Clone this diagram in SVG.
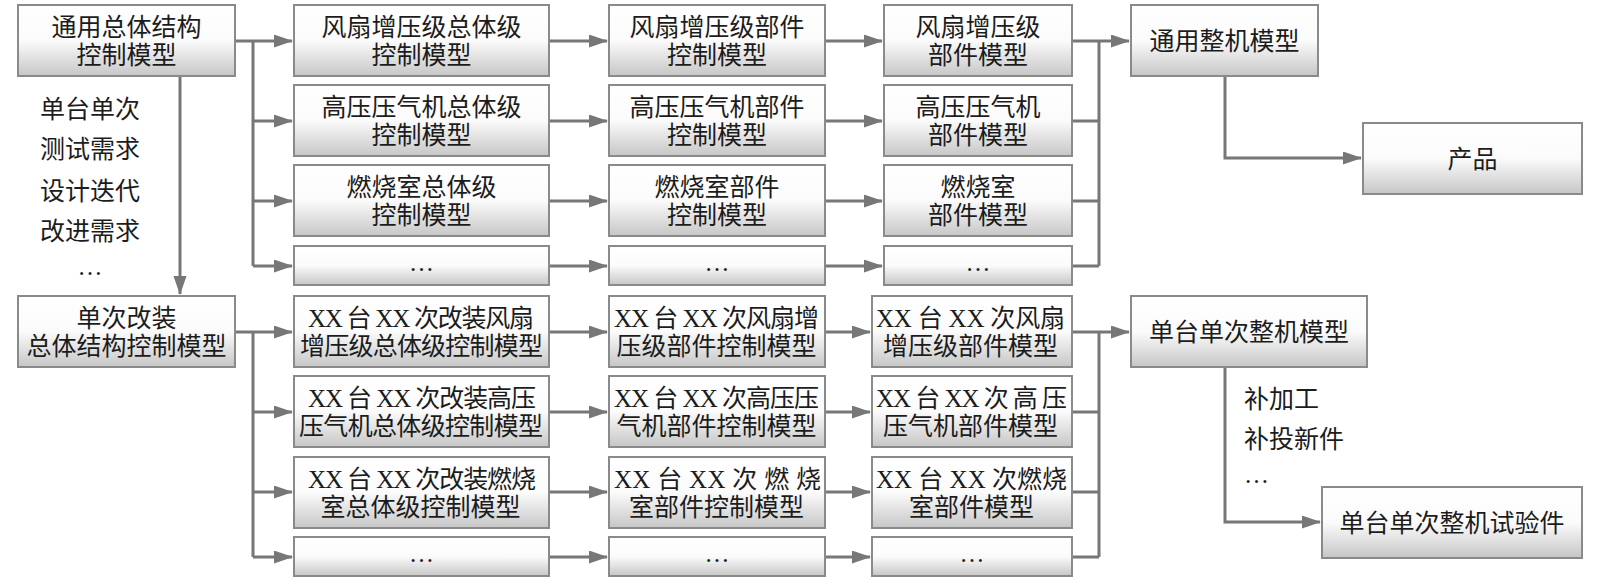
<svg xmlns="http://www.w3.org/2000/svg" width="1600" height="585" viewBox="0 0 1600 585">
<defs>
<linearGradient id="g" x1="0" y1="0" x2="0" y2="1">
<stop offset="0" stop-color="#ffffff"/>
<stop offset="0.5" stop-color="#fbfbfb"/>
<stop offset="1" stop-color="#c6c6c6"/>
</linearGradient>
<marker id="ah" markerUnits="userSpaceOnUse" markerWidth="19" markerHeight="14" refX="18" refY="6.5" orient="auto">
<path d="M0,0 L19,6.5 L0,13 z" fill="#777777"/>
</marker>
<style>
.box{fill:url(#g);stroke:#8a8a8a;stroke-width:2}
.t{font-family:"Liberation Serif","Noto Sans CJK SC",serif;font-size:25px;fill:#1c1c1c;text-anchor:middle}
.l{font-family:"Liberation Serif","Noto Sans CJK SC",serif;font-size:25px;fill:#1c1c1c}
.c{fill:none;stroke:#777777;stroke-width:3}
.a{marker-end:url(#ah)}
</style>
</defs>
<rect width="1600" height="585" fill="#ffffff"/>

<g id="connectors">
<path class="c a" d="M180,76 V294"/>
<path class="c" d="M235,41 H253 M253,41 V266"/>
<path class="c a" d="M253,41 H292"/>
<path class="c a" d="M253,121 H292"/>
<path class="c a" d="M253,201 H292"/>
<path class="c a" d="M253,266 H292"/>
<path class="c a" d="M549,41 H607"/>
<path class="c a" d="M549,121 H607"/>
<path class="c a" d="M549,201 H607"/>
<path class="c a" d="M549,266 H607"/>
<path class="c a" d="M825,41 H882"/>
<path class="c a" d="M825,121 H882"/>
<path class="c a" d="M825,201 H882"/>
<path class="c a" d="M825,266 H882"/>
<path class="c" d="M1072,41 H1099 M1072,121 H1099 M1072,201 H1099 M1072,266 H1099 M1099,41 V266"/>
<path class="c a" d="M1099,41 H1129"/>
<path class="c a" d="M1225,76 V158 H1361"/>

<path class="c" d="M235,332 H253 M253,332 V557"/>
<path class="c a" d="M253,332 H292"/>
<path class="c a" d="M253,412 H292"/>
<path class="c a" d="M253,492 H292"/>
<path class="c a" d="M253,557 H292"/>
<path class="c a" d="M549,332 H607"/>
<path class="c a" d="M549,412 H607"/>
<path class="c a" d="M549,492 H607"/>
<path class="c a" d="M549,557 H607"/>
<path class="c a" d="M825,332 H870"/>
<path class="c a" d="M825,412 H870"/>
<path class="c a" d="M825,492 H870"/>
<path class="c a" d="M825,557 H870"/>
<path class="c" d="M1072,332 H1099 M1072,412 H1099 M1072,492 H1099 M1072,557 H1099 M1099,332 V557"/>
<path class="c a" d="M1099,332 H1129"/>
<path class="c a" d="M1225,367 V522 H1320"/>
</g>

<g id="labels-left">
<text class="t" x="90" y="117.5">单台单次</text>
<text class="t" x="90" y="157.5">测试需求</text>
<text class="t" x="90" y="199.5">设计迭代</text>
<text class="t" x="90" y="239.5">改进需求</text>
<text class="t" x="90" y="275">…</text>
</g>
<g id="labels-right">
<text class="l" x="1244" y="407.5">补加工</text>
<text class="l" x="1244" y="447.5">补投新件</text>
<text class="l" x="1244" y="483">…</text>
</g>

<g id="n-general-structure">
<rect class="box" x="18" y="5" width="217" height="71"/>
<text class="t" x="126.5" y="36">通用总体结构</text>
<text class="t" x="126.5" y="64">控制模型</text>
</g>
<g id="n-fan-overall">
<rect class="box" x="294" y="5" width="255" height="71"/>
<text class="t" x="421.5" y="36">风扇增压级总体级</text>
<text class="t" x="421.5" y="64">控制模型</text>
</g>
<g id="n-hpc-overall">
<rect class="box" x="294" y="85" width="255" height="71"/>
<text class="t" x="421.5" y="116">高压压气机总体级</text>
<text class="t" x="421.5" y="144">控制模型</text>
</g>
<g id="n-comb-overall">
<rect class="box" x="294" y="165" width="255" height="71"/>
<text class="t" x="421.5" y="196">燃烧室总体级</text>
<text class="t" x="421.5" y="224">控制模型</text>
</g>
<g id="n-etc-overall">
<rect class="box" x="294" y="246" width="255" height="39"/>
<text class="t" x="421.5" y="271">…</text>
</g>
<g id="n-fan-part-ctrl">
<rect class="box" x="609" y="5" width="216" height="71"/>
<text class="t" x="717" y="36">风扇增压级部件</text>
<text class="t" x="717" y="64">控制模型</text>
</g>
<g id="n-hpc-part-ctrl">
<rect class="box" x="609" y="85" width="216" height="71"/>
<text class="t" x="717" y="116">高压压气机部件</text>
<text class="t" x="717" y="144">控制模型</text>
</g>
<g id="n-comb-part-ctrl">
<rect class="box" x="609" y="165" width="216" height="71"/>
<text class="t" x="717" y="196">燃烧室部件</text>
<text class="t" x="717" y="224">控制模型</text>
</g>
<g id="n-etc-part-ctrl">
<rect class="box" x="609" y="246" width="216" height="39"/>
<text class="t" x="717" y="271">…</text>
</g>
<g id="n-fan-part">
<rect class="box" x="884" y="5" width="188" height="71"/>
<text class="t" x="978" y="36">风扇增压级</text>
<text class="t" x="978" y="64">部件模型</text>
</g>
<g id="n-hpc-part">
<rect class="box" x="884" y="85" width="188" height="71"/>
<text class="t" x="978" y="116">高压压气机</text>
<text class="t" x="978" y="144">部件模型</text>
</g>
<g id="n-comb-part">
<rect class="box" x="884" y="165" width="188" height="71"/>
<text class="t" x="978" y="196">燃烧室</text>
<text class="t" x="978" y="224">部件模型</text>
</g>
<g id="n-etc-part">
<rect class="box" x="884" y="246" width="188" height="39"/>
<text class="t" x="978" y="271">…</text>
</g>
<g id="n-general-engine">
<rect class="box" x="1131" y="5" width="187" height="71"/>
<text class="t" x="1224.5" y="50">通用整机模型</text>
</g>
<g id="n-product">
<rect class="box" x="1363" y="123" width="219" height="71"/>
<text class="t" x="1472.5" y="168">产品</text>
</g>

<g id="n-single-structure">
<rect class="box" x="18" y="296" width="217" height="71"/>
<text class="t" x="126.5" y="327">单次改装</text>
<text class="t" x="126.5" y="355">总体结构控制模型</text>
</g>
<g id="n-xx-fan-overall">
<rect class="box" x="294" y="296" width="255" height="71"/>
<text class="t" x="421" y="327" textLength="226" lengthAdjust="spacing">XX 台 XX 次改装风扇</text>
<text class="t" x="421.5" y="355" textLength="243" lengthAdjust="spacing">增压级总体级控制模型</text>
</g>
<g id="n-xx-hpc-overall">
<rect class="box" x="294" y="376" width="255" height="71"/>
<text class="t" x="422" y="407" textLength="228" lengthAdjust="spacing">XX 台 XX 次改装高压</text>
<text class="t" x="421" y="435" textLength="244" lengthAdjust="spacing">压气机总体级控制模型</text>
</g>
<g id="n-xx-comb-overall">
<rect class="box" x="294" y="457" width="255" height="71"/>
<text class="t" x="422" y="488" textLength="228" lengthAdjust="spacing">XX 台 XX 次改装燃烧</text>
<text class="t" x="420.5" y="516">室总体级控制模型</text>
</g>
<g id="n-xx-etc-overall">
<rect class="box" x="294" y="537" width="255" height="39"/>
<text class="t" x="421.5" y="562">…</text>
</g>
<g id="n-xx-fan-part-ctrl">
<rect class="box" x="609" y="296" width="216" height="71"/>
<text class="t" x="716.5" y="327" textLength="205" lengthAdjust="spacing">XX 台 XX 次风扇增</text>
<text class="t" x="716.5" y="355">压级部件控制模型</text>
</g>
<g id="n-xx-hpc-part-ctrl">
<rect class="box" x="609" y="376" width="216" height="71"/>
<text class="t" x="716.5" y="407" textLength="205" lengthAdjust="spacing">XX 台 XX 次高压压</text>
<text class="t" x="716.5" y="435">气机部件控制模型</text>
</g>
<g id="n-xx-comb-part-ctrl">
<rect class="box" x="609" y="457" width="216" height="71"/>
<text class="t" x="717.5" y="488" textLength="207" lengthAdjust="spacing">XX 台 XX 次 燃 烧</text>
<text class="t" x="716.5" y="516">室部件控制模型</text>
</g>
<g id="n-xx-etc-part-ctrl">
<rect class="box" x="609" y="537" width="216" height="39"/>
<text class="t" x="717" y="562">…</text>
</g>
<g id="n-xx-fan-part">
<rect class="box" x="872" y="296" width="200" height="71"/>
<text class="t" x="970.5" y="327" textLength="189" lengthAdjust="spacing">XX 台 XX 次风扇</text>
<text class="t" x="970.5" y="355">增压级部件模型</text>
</g>
<g id="n-xx-hpc-part">
<rect class="box" x="872" y="376" width="200" height="71"/>
<text class="t" x="971.5" y="407" textLength="191" lengthAdjust="spacing">XX 台 XX 次 高 压</text>
<text class="t" x="970.5" y="435">压气机部件模型</text>
</g>
<g id="n-xx-comb-part">
<rect class="box" x="872" y="457" width="200" height="71"/>
<text class="t" x="971.5" y="488" textLength="191" lengthAdjust="spacing">XX 台 XX 次燃烧</text>
<text class="t" x="971.5" y="516">室部件模型</text>
</g>
<g id="n-xx-etc-part">
<rect class="box" x="872" y="537" width="200" height="39"/>
<text class="t" x="972" y="562">…</text>
</g>
<g id="n-single-engine">
<rect class="box" x="1131" y="296" width="236" height="71"/>
<text class="t" x="1249" y="341">单台单次整机模型</text>
</g>
<g id="n-single-test">
<rect class="box" x="1322" y="487" width="260" height="71"/>
<text class="t" x="1452" y="532">单台单次整机试验件</text>
</g>
</svg>
